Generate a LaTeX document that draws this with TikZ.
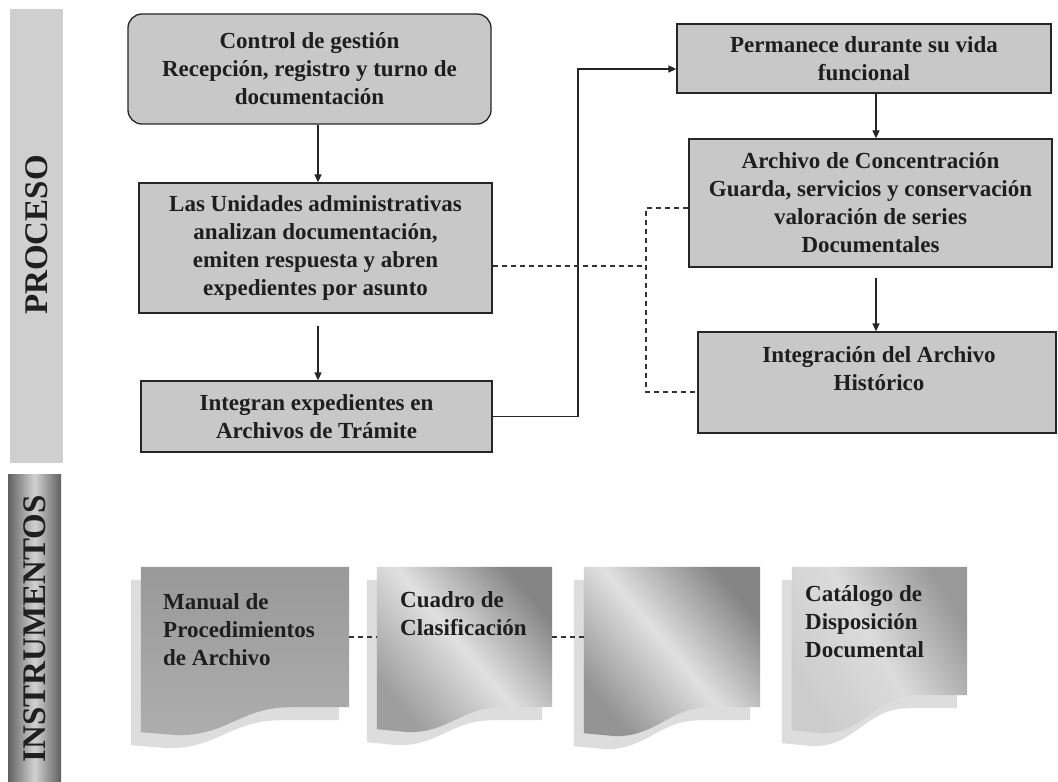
\documentclass[tikz,border=0pt]{standalone}
\usepackage{fontspec}
\setmainfont{Liberation Serif}
\usetikzlibrary{arrows.meta,calc}
\definecolor{boxgray}{HTML}{C8C8C8}
\definecolor{txtc}{HTML}{1E1E1E}
\definecolor{procgray}{HTML}{CFCFCF}
\definecolor{shadowgray}{HTML}{DDDDDD}
\newcommand\docpath[2]{(#1.north west) -- (#1.north east) -- (#1.south east)
 -- ($(#1.south west)!0.72!(#1.south east)$)
 .. controls ($(#1.south west)!0.48!(#1.south east)$) and ($(#1.south west)!0.42!(#1.south east)+(0,#2+3)$)
 .. ($(#1.south west)!0.18!(#1.south east)+(0,#2+3)$) -- ($(#1.south west)+(0,#2)$) -- cycle}
\begin{document}
\begin{tikzpicture}[x=1pt,y=-1pt,
  pbox/.style={draw=black!85, line width=1.3pt, fill=boxgray, align=center,
    font=\fontsize{23}{28}\selectfont\bfseries, text=txtc, inner sep=0pt},
  ptext/.style={align=center, font=\fontsize{23}{28}\selectfont\bfseries, text=txtc, inner sep=0pt},
  dtext/.style={align=left, font=\fontsize{23}{28}\selectfont\bfseries, text=txtc, inner sep=0pt, anchor=north west},
  docbox/.style={inner sep=0pt, minimum height=140pt},
  bartext/.style={rotate=90, font=\fontsize{33}{36}\selectfont\bfseries, text=black!88, inner sep=0pt},
  arr/.style={-{Triangle[length=8pt,width=7pt]}, line width=1.4pt, draw=black!85},
  dline/.style={dash pattern=on 5pt off 4pt, line width=1.1pt, draw=black!80},
]
\useasboundingbox (0,0) rectangle (1058,782);
\fill[white] (0,0) rectangle (1058,782);

% side bars
\fill[procgray] (10,9) rectangle (63,463);
\node[bartext] (proc) at (36.5,235) {PROCESO};
\shade[left color=black!62, right color=black!62, middle color=black!18] (8,474) rectangle (61,782);
\node[bartext] (instr) at (34.5,629) {INSTRUMENTOS};

% process boxes
\node[pbox, rounded corners=14pt, minimum width=363pt, minimum height=110pt] (b1) at (309.5,69)
  {Control de gestión\\Recepción, registro y turno de\\documentación};
\node[pbox, minimum width=353pt, minimum height=130pt] (b2) at (315.5,248)
  {Las Unidades administrativas\\analizan documentación,\\emiten respuesta y abren\\expedientes por asunto};
\node[pbox, minimum width=351pt, minimum height=71pt] (b3) at (316.5,416.5)
  {Integran expedientes en\\Archivos de Trámite};
\node[pbox, minimum width=374pt, minimum height=69pt] (b4) at (864,58.5)
  {Permanece durante su vida\\funcional};
\node[pbox, minimum width=363pt, minimum height=128pt] (b5) at (870.5,203)
  {Archivo de Concentración\\Guarda, servicios y conservación\\valoración de series\\Documentales};
\node[pbox, minimum width=358pt, minimum height=101pt] (b6) at (877,382.5) {};
\node[ptext] (b6t) at (879,369) {Integración del Archivo\\Histórico};

% arrows
\coordinate (c1) at (318,0);
\coordinate (c2) at (578,69);
\coordinate (c3) at (876,0);
\draw[arr] (b1.south -| c1) -- (b2.north -| c1);
\draw[arr, shorten <=12pt] (b2.south -| c1) -- (b3.north -| c1);
\draw[arr] (b3.east) -| (c2) -- (b4.west |- c2);
\draw[arr] (b4.south -| c3) -- (b5.north -| c3);
\draw[arr, shorten <=10pt] (b5.south -| c3) -- (b6.north -| c3);

% dashed links
\coordinate (j) at (646,266);
\coordinate (k1) at (646,208);
\coordinate (k2) at (646,392);
\draw[dline] (b2.east |- j) -- (j);
\draw[dline] (b5.west |- k1) -- (k1) -- (k2) -- (b6.west |- k2);

% instrument documents
\node[docbox, minimum width=208pt] (d1) at (245,637) {};
\node[docbox, minimum width=175pt] (d2) at (464.5,637) {};
\node[docbox, minimum width=176pt] (d3) at (672,637) {};
\node[docbox, minimum width=175pt, minimum height=128pt] (d4) at (879.5,631) {};

\begin{scope}[transform canvas={shift={(-10pt,-13pt)}}]
  \fill[shadowgray] \docpath{d1}{25};
  \fill[shadowgray] \docpath{d2}{22};
  \fill[shadowgray] \docpath{d3}{26};
  \fill[shadowgray] \docpath{d4}{35};
\end{scope}

\shade[top color=black!40, bottom color=black!32] \docpath{d1}{25};
\shade[left color=black!38, right color=black!48, middle color=black!12, shading angle=130] \docpath{d2}{22};
\shade[left color=black!42, right color=black!48, middle color=black!12, shading angle=130] \docpath{d3}{26};
\shade[left color=black!20, right color=black!40, middle color=black!14, shading angle=120] \docpath{d4}{35};

\node[dtext] (t1) at (163,593) {Manual de\\Procedimientos\\de Archivo};
\node[dtext] (t2) at (400,591) {Cuadro de\\Clasificación};
\node[dtext] (t4) at (805,585) {Catálogo de\\Disposición\\Documental};

\draw[dline] (d1.east) -- (d2.west);
\draw[dline] (d2.east) -- (d3.west);
\end{tikzpicture}
\end{document}
